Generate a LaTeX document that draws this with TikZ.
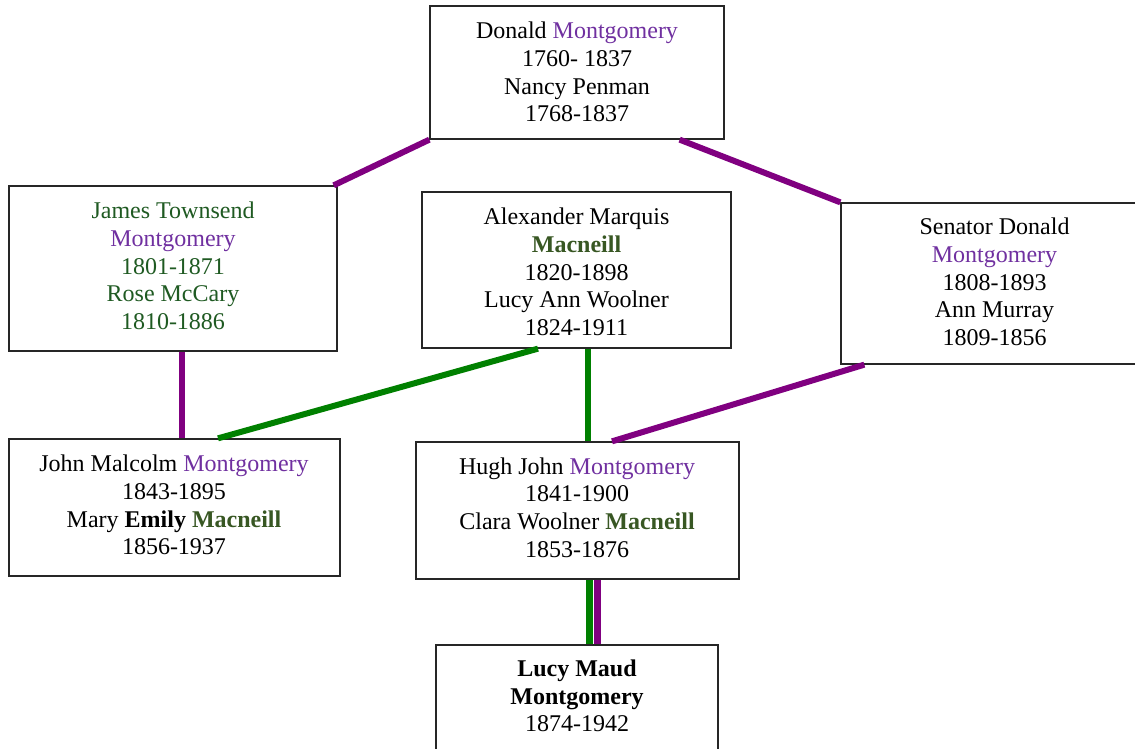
\documentclass[tikz,border=0pt]{standalone}
\usepackage{fontspec}
\setmainfont{Liberation Serif}
\definecolor{linkpurple}{HTML}{800080}
\definecolor{linkgreen}{HTML}{008000}
\definecolor{montpurple}{HTML}{7030A0}
\definecolor{macgreen}{HTML}{385723}
\definecolor{jamesgreen}{HTML}{1F5A22}
\newcommand{\Mont}{\textcolor{montpurple}{Montgomery}}
\newcommand{\Mac}{\textcolor{macgreen}{\textbf{Macneill}}}
\begin{document}
\begin{tikzpicture}[x=1pt,y=-1pt,
  box/.style={draw=black!85, line width=1.3pt, fill=white, inner sep=0pt},
  txt/.style={align=center, font=\fontsize{24}{27.7}\selectfont, inner sep=0pt},
  plink/.style={draw=linkpurple, line width=6pt},
  glink/.style={draw=linkgreen, line width=6pt}]
\useasboundingbox (0,0) rectangle (1135,749);
\clip (0,0) rectangle (1135,749);
% boxes
\node[box, minimum width=294, minimum height=133] (donald) at (577,72.5) {};
\node[box, minimum width=328, minimum height=165] (james) at (173,268.5) {};
\node[box, minimum width=309, minimum height=156] (alex) at (576.5,270) {};
\node[box, minimum width=307, minimum height=161] (senator) at (994.5,283.5) {};
\node[box, minimum width=331, minimum height=137] (john) at (174.5,507.5) {};
\node[box, minimum width=323, minimum height=137] (hugh) at (577.5,510.5) {};
\node[box, minimum width=282, minimum height=120] (lucy) at (577,705) {};
% texts
\node[txt] (donaldtxt) at (577,72) {Donald \Mont\\1760- 1837\\Nancy Penman\\1768-1837};
\node[txt, text=jamesgreen] (jamestxt) at (173,266) {James Townsend\\\Mont\\1801-1871\\Rose McCary\\1810-1886};
\node[txt] (alextxt) at (576.5,272) {Alexander Marquis\\\Mac\\1820-1898\\Lucy Ann Woolner\\1824-1911};
\node[txt] (senatortxt) at (994.5,282) {Senator Donald\\\Mont\\1808-1893\\Ann Murray\\1809-1856};
\node[txt] (johntxt) at (174,505) {John Malcolm \Mont\\1843-1895\\Mary \textbf{Emily} \Mac\\1856-1937};
\node[txt] (hughtxt) at (577,507.5) {Hugh John \Mont\\1841-1900\\Clara Woolner \Mac\\1853-1876};
\node[txt] (lucytxt) at (577,696) {\textbf{Lucy Maud}\\\textbf{Montgomery}\\1874-1942};
% connectors
\draw[plink] (donald.south west) -- ([xshift=-4pt]james.north east);
\draw[plink] ([xshift=-45pt]donald.south east) -- (senator.north west);
\draw[plink] ([xshift=9pt]james.south) -- ([xshift=7.5pt]john.north);
\draw[glink] ([xshift=-38.5pt]alex.south) -- ([xshift=43.5pt]john.north);
\draw[glink] ([xshift=11.5pt]alex.south) -- ([xshift=10.5pt]hugh.north);
\draw[plink] ([xshift=24pt]senator.south west) -- ([xshift=34.5pt]hugh.north);
\draw[glink, line width=7pt] ([xshift=12pt]hugh.south) -- ([xshift=12.5pt]lucy.north);
\draw[plink, line width=7pt] ([xshift=20pt]hugh.south) -- ([xshift=20.5pt]lucy.north);
\end{tikzpicture}
\end{document}
